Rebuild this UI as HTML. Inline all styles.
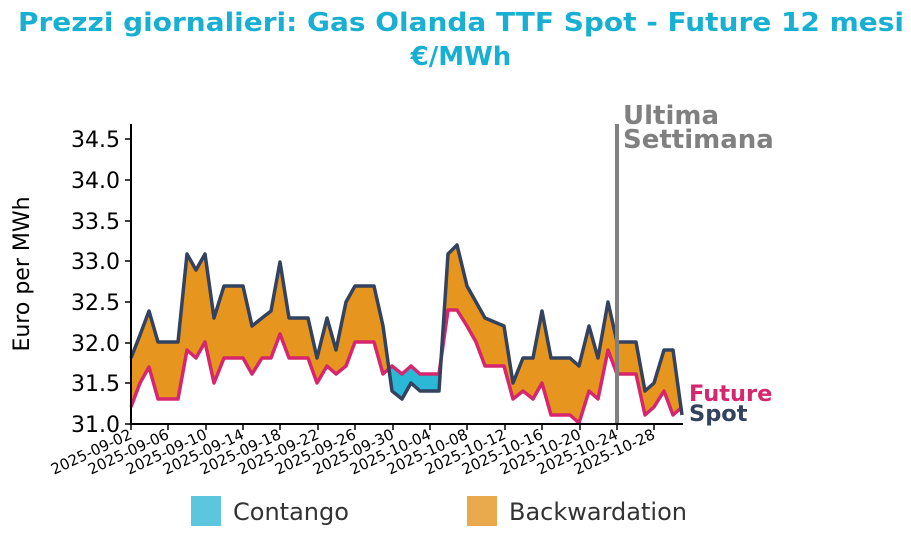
<!DOCTYPE html>
<html><head><meta charset="utf-8"><style>body{margin:0;background:#fff}svg{display:block;font-family:"DejaVu Sans","Liberation Sans",sans-serif}</style></head><body>
<svg width="911" height="540" viewBox="0 0 911 540">
<text x="461" y="31" text-anchor="middle" font-size="26" font-weight="bold" fill="#17b0d2" textLength="886" lengthAdjust="spacingAndGlyphs">Prezzi giornalieri: Gas Olanda TTF Spot - Future 12 mesi</text>
<text x="461" y="65" text-anchor="middle" font-size="26" font-weight="bold" fill="#17b0d2">€/MWh</text>
<defs>
<clipPath id="co"><rect x="0" y="0" width="389" height="540"/><rect x="443" y="0" width="400" height="540"/></clipPath>
<clipPath id="cb"><rect x="389" y="0" width="54" height="540"/></clipPath>
</defs>
<polygon clip-path="url(#co)" fill="#e6961e" points="131,358 140,335 149,311 158,342 168,342 178,342 187,254 196,270 205,254 214,318 224,286 243,286 252,326 262,318 271,311 280,262 289,318 308,318 317,358 327,318 336,350 346,302 355,286 374,286 383,326 392,391 402,399 411,383 420,391 439,391 448,254 457,245 467,286 476,302 485,318 504,326 513,383 523,358 533,358 542,311 551,358 570,358 579,366 589,326 598,358 608,302 617,342 636,342 645,391 654,383 664,350 673,350 682,415 682,407 673,415 664,391 654,407 645,415 636,374 617,374 608,350 598,399 589,391 579,423 570,415 551,415 542,383 533,399 523,391 513,399 504,366 485,366 476,342 467,326 457,310 448,310 439,374 420,374 411,366 402,374 392,366 383,374 374,342 355,342 346,366 336,374 327,366 317,383 308,358 289,358 280,334 271,358 262,358 252,374 243,358 224,358 214,383 205,342 196,358 187,350 178,399 168,399 158,399 149,367 140,383 131,407"/>
<polygon clip-path="url(#cb)" fill="#2bb8d6" points="383,326 392,391 402,399 411,383 420,391 439,391 448,254 448,310 439,374 420,374 411,366 402,374 392,366 383,374"/>
<polyline fill="none" stroke="#d6276e" stroke-width="3.5" stroke-linejoin="round" points="131,407 140,383 149,367 158,399 168,399 178,399 187,350 196,358 205,342 214,383 224,358 243,358 252,374 262,358 271,358 280,334 289,358 308,358 317,383 327,366 336,374 346,366 355,342 374,342 383,374 392,366 402,374 411,366 420,374 439,374 448,310 457,310 467,326 476,342 485,366 504,366 513,399 523,391 533,399 542,383 551,415 570,415 579,423 589,391 598,399 608,350 617,374 636,374 645,415 654,407 664,391 673,415 682,407"/>
<polyline fill="none" stroke="#33425f" stroke-width="3.5" stroke-linejoin="round" points="131,358 140,335 149,311 158,342 168,342 178,342 187,254 196,270 205,254 214,318 224,286 243,286 252,326 262,318 271,311 280,262 289,318 308,318 317,358 327,318 336,350 346,302 355,286 374,286 383,326 392,391 402,399 411,383 420,391 439,391 448,254 457,245 467,286 476,302 485,318 504,326 513,383 523,358 533,358 542,311 551,358 570,358 579,366 589,326 598,358 608,302 617,342 636,342 645,391 654,383 664,350 673,350 682,415"/>
<line x1="617" y1="124" x2="617" y2="424" stroke="#808080" stroke-width="4"/>
<text x="623" y="124" font-size="26" font-weight="bold" fill="#808080">Ultima</text>
<text x="623" y="148" font-size="26" font-weight="bold" fill="#808080">Settimana</text>
<g stroke="#000" stroke-width="2"><line x1="131" y1="124" x2="131" y2="425"/><line x1="130" y1="424" x2="683" y2="424"/></g>
<g font-size="22" text-anchor="end" fill="#000">
<text x="120" y="432">31.0</text><text x="120" y="391">31.5</text><text x="120" y="351">32.0</text><text x="120" y="310">32.5</text><text x="120" y="269">33.0</text><text x="120" y="229">33.5</text><text x="120" y="188">34.0</text><text x="120" y="147">34.5</text>
</g>
<g stroke="#000" stroke-width="1.5"><line x1="125" y1="424" x2="131" y2="424"/><line x1="125" y1="383" x2="131" y2="383"/><line x1="125" y1="343" x2="131" y2="343"/><line x1="125" y1="302" x2="131" y2="302"/><line x1="125" y1="261" x2="131" y2="261"/><line x1="125" y1="221" x2="131" y2="221"/><line x1="125" y1="180" x2="131" y2="180"/><line x1="125" y1="139" x2="131" y2="139"/></g>
<text transform="translate(29,274) rotate(-90)" text-anchor="middle" font-size="22" fill="#000">Euro per MWh</text>
<g font-size="15" text-anchor="end" fill="#000">
<text transform="translate(133,438) rotate(-25)">2025-09-02</text>
<text transform="translate(170,438) rotate(-25)">2025-09-06</text>
<text transform="translate(208,438) rotate(-25)">2025-09-10</text>
<text transform="translate(245,438) rotate(-25)">2025-09-14</text>
<text transform="translate(282,438) rotate(-25)">2025-09-18</text>
<text transform="translate(320,438) rotate(-25)">2025-09-22</text>
<text transform="translate(357,438) rotate(-25)">2025-09-26</text>
<text transform="translate(395,438) rotate(-25)">2025-09-30</text>
<text transform="translate(432,438) rotate(-25)">2025-10-04</text>
<text transform="translate(469,438) rotate(-25)">2025-10-08</text>
<text transform="translate(507,438) rotate(-25)">2025-10-12</text>
<text transform="translate(544,438) rotate(-25)">2025-10-16</text>
<text transform="translate(582,438) rotate(-25)">2025-10-20</text>
<text transform="translate(619,438) rotate(-25)">2025-10-24</text>
<text transform="translate(656,438) rotate(-25)">2025-10-28</text>
</g>
<g stroke="#000" stroke-width="1.5"><line x1="131" y1="424" x2="131" y2="430"/><line x1="168" y1="424" x2="168" y2="430"/><line x1="206" y1="424" x2="206" y2="430"/><line x1="243" y1="424" x2="243" y2="430"/><line x1="280" y1="424" x2="280" y2="430"/><line x1="318" y1="424" x2="318" y2="430"/><line x1="355" y1="424" x2="355" y2="430"/><line x1="393" y1="424" x2="393" y2="430"/><line x1="430" y1="424" x2="430" y2="430"/><line x1="467" y1="424" x2="467" y2="430"/><line x1="505" y1="424" x2="505" y2="430"/><line x1="542" y1="424" x2="542" y2="430"/><line x1="580" y1="424" x2="580" y2="430"/><line x1="617" y1="424" x2="617" y2="430"/><line x1="654" y1="424" x2="654" y2="430"/></g>
<text x="689" y="401" font-size="22.5" font-weight="bold" fill="#d6276e">Future</text>
<text x="689" y="421" font-size="22.5" font-weight="bold" fill="#33425f">Spot</text>
<rect x="191" y="496" width="30" height="30" fill="#5bc6de"/>
<text x="233" y="520" font-size="24" fill="#333">Contango</text>
<rect x="467" y="496" width="30" height="30" fill="#eaa94c"/>
<text x="509" y="520" font-size="24" fill="#333">Backwardation</text>
</svg>
</body></html>
